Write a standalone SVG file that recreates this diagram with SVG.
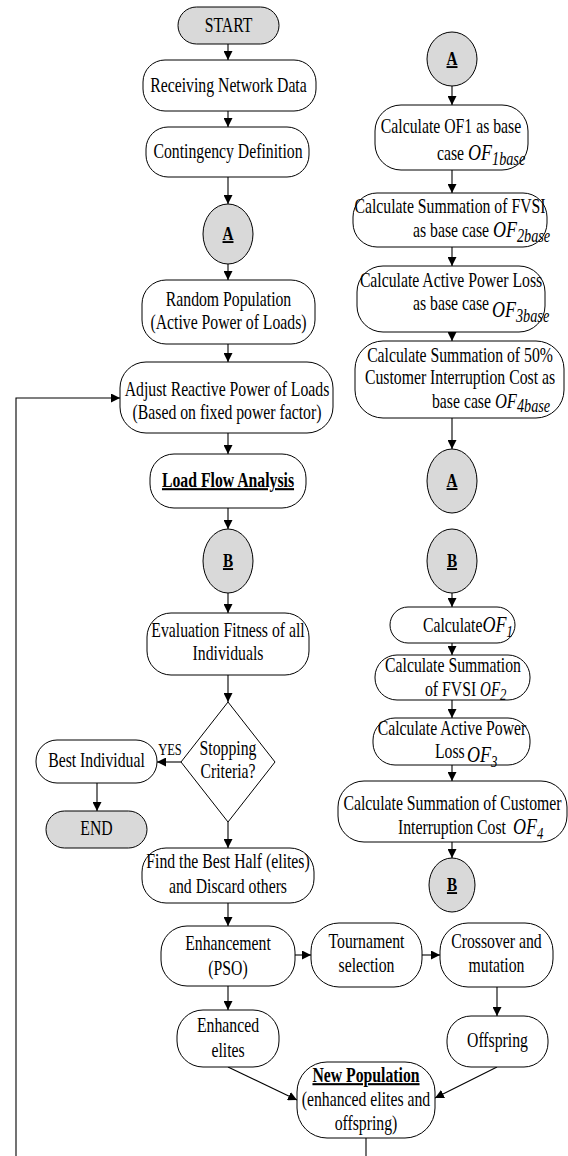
<svg xmlns="http://www.w3.org/2000/svg" width="568" height="1156" viewBox="0 0 568 1156">
<style>
  rect, ellipse, polygon { fill: #ffffff; stroke: #000000; stroke-width: 1; }
  .gray { fill: #d9d9d9; }
  text { font-family: "Liberation Serif", "Times New Roman", serif; font-size: 21px; fill: #000000; text-anchor: middle; }
  text.s { text-anchor: start; }
  .b { font-weight: bold; text-decoration: underline; }
  .lbl { font-size: 19px; }
  .of { font-style: italic; font-size: 24px; }
  .ofs { font-style: italic; font-size: 20px; }
  .sub { font-style: italic; font-size: 19px; }
  .sub1 { font-style: italic; font-size: 17px; }
  .yes { font-size: 16px; }
  #connectors path { fill: none; stroke: #000000; stroke-width: 1.1; }
</style>
<defs>
  <marker id="arr" markerUnits="userSpaceOnUse" markerWidth="9" markerHeight="9" refX="9" refY="4.5" orient="auto">
    <path d="M0,0 L9,4.5 L0,9 z" fill="#000000"/>
  </marker>
</defs>
<rect x="0" y="0" width="568" height="1156" style="fill:#ffffff;stroke:none"/>

<g id="connectors">
  <path d="M228,44 V60" marker-end="url(#arr)"/>
  <path d="M228,111 V127" marker-end="url(#arr)"/>
  <path d="M228,177 V204" marker-end="url(#arr)"/>
  <path d="M228,264 V280" marker-end="url(#arr)"/>
  <path d="M228,344 V362" marker-end="url(#arr)"/>
  <path d="M228,433 V454" marker-end="url(#arr)"/>
  <path d="M228,508 V529" marker-end="url(#arr)"/>
  <path d="M228,593 V613" marker-end="url(#arr)"/>
  <path d="M228,675 V702" marker-end="url(#arr)"/>
  <path d="M181,762 H157" marker-end="url(#arr)"/>
  <path d="M97,783 V811" marker-end="url(#arr)"/>
  <path d="M228,822 V848" marker-end="url(#arr)"/>
  <path d="M228,903 V926" marker-end="url(#arr)"/>
  <path d="M295,955 H311" marker-end="url(#arr)"/>
  <path d="M422,955 H440" marker-end="url(#arr)"/>
  <path d="M228,986 V1010" marker-end="url(#arr)"/>
  <path d="M497,987 V1016" marker-end="url(#arr)"/>
  <path d="M228,1067 L297,1100" marker-end="url(#arr)"/>
  <path d="M497,1067 L435,1098" marker-end="url(#arr)"/>
  <path d="M366,1138 V1156"/>
  <path d="M16,1156 V398 H120" marker-end="url(#arr)"/>
  <path d="M452,86 V105" marker-end="url(#arr)"/>
  <path d="M452,170 V193" marker-end="url(#arr)"/>
  <path d="M452,247 V266" marker-end="url(#arr)"/>
  <path d="M452,332 V341" marker-end="url(#arr)"/>
  <path d="M452,418 V449" marker-end="url(#arr)"/>
  <path d="M452,593 V607" marker-end="url(#arr)"/>
  <path d="M452,643 V655" marker-end="url(#arr)"/>
  <path d="M452,700 V718" marker-end="url(#arr)"/>
  <path d="M452,765 V781" marker-end="url(#arr)"/>
  <path d="M452,842 V858" marker-end="url(#arr)"/>
</g>

<g id="start">
  <rect class="gray" x="178" y="7" width="101" height="37" rx="18.5"/>
  <text transform="translate(228.5 32) scale(0.75 1)">START</text>
</g>
<g id="receiving">
  <rect x="143" y="60" width="173" height="51" rx="22"/>
  <text transform="translate(228.5 92) scale(0.75 1)">Receiving Network Data</text>
</g>
<g id="contingency">
  <rect x="146" y="127" width="163" height="50" rx="22"/>
  <text transform="translate(228 158) scale(0.75 1)">Contingency Definition</text>
</g>
<g id="connA1">
  <ellipse class="gray" cx="228" cy="234" rx="25" ry="30"/>
  <text class="b lbl" transform="translate(228 240) scale(0.8 1)">A</text>
</g>
<g id="random">
  <rect x="142" y="280" width="173" height="64" rx="24"/>
  <text transform="translate(228.5 306) scale(0.75 1)">Random Population</text>
  <text transform="translate(228.5 329) scale(0.75 1)">(Active Power of Loads)</text>
</g>
<g id="adjust">
  <rect x="120" y="362" width="213" height="71" rx="26"/>
  <text transform="translate(227 396) scale(0.75 1)">Adjust Reactive Power of Loads</text>
  <text transform="translate(227 419) scale(0.75 1)">(Based on fixed power factor)</text>
</g>
<g id="loadflow">
  <rect x="150" y="454" width="156" height="54" rx="24"/>
  <text class="b" transform="translate(228 487) scale(0.75 1)">Load Flow Analysis</text>
</g>
<g id="connB1">
  <ellipse class="gray" cx="228" cy="561" rx="25" ry="32"/>
  <text class="b lbl" transform="translate(228 567) scale(0.8 1)">B</text>
</g>
<g id="evaluation">
  <rect x="147" y="613" width="162" height="62" rx="24"/>
  <text transform="translate(228 637) scale(0.75 1)">Evaluation Fitness of all</text>
  <text transform="translate(228 660) scale(0.75 1)">Individuals</text>
</g>
<g id="stopping">
  <polygon points="228,702 275,762 228,822 181,762"/>
  <text transform="translate(228 755) scale(0.75 1)">Stopping</text>
  <text transform="translate(228 778) scale(0.75 1)">Criteria?</text>
  <text class="yes" transform="translate(170 755) scale(0.78 1)">YES</text>
</g>
<g id="best">
  <rect x="36" y="740" width="121" height="43" rx="21"/>
  <text transform="translate(96.5 767) scale(0.75 1)">Best Individual</text>
</g>
<g id="end">
  <rect class="gray" x="46" y="811" width="101" height="37" rx="18.5"/>
  <text transform="translate(96.5 835) scale(0.75 1)">END</text>
</g>
<g id="findbest">
  <rect x="142" y="848" width="172" height="55" rx="24"/>
  <text transform="translate(228 868) scale(0.75 1)">Find the Best Half (elites)</text>
  <text transform="translate(228 893) scale(0.75 1)">and Discard others</text>
</g>
<g id="enhancement">
  <rect x="161" y="926" width="134" height="60" rx="26"/>
  <text transform="translate(228 950) scale(0.75 1)">Enhancement</text>
  <text transform="translate(228 975) scale(0.75 1)">(PSO)</text>
</g>
<g id="tournament">
  <rect x="311" y="923" width="111" height="64" rx="28"/>
  <text transform="translate(366.5 948) scale(0.75 1)">Tournament</text>
  <text transform="translate(366.5 972) scale(0.75 1)">selection</text>
</g>
<g id="crossover">
  <rect x="440" y="923" width="113" height="64" rx="28"/>
  <text transform="translate(496.5 948) scale(0.75 1)">Crossover and</text>
  <text transform="translate(496.5 972) scale(0.75 1)">mutation</text>
</g>
<g id="enhancedelites">
  <rect x="177" y="1010" width="102" height="57" rx="26"/>
  <text transform="translate(228 1032) scale(0.75 1)">Enhanced</text>
  <text transform="translate(228 1057) scale(0.75 1)">elites</text>
</g>
<g id="offspring">
  <rect x="447" y="1016" width="101" height="51" rx="24"/>
  <text transform="translate(497.5 1047) scale(0.75 1)">Offspring</text>
</g>
<g id="newpop">
  <rect x="297" y="1062" width="138" height="76" rx="30"/>
  <text class="b" transform="translate(366 1082) scale(0.75 1)">New Population</text>
  <text transform="translate(366 1106) scale(0.75 1)">(enhanced elites and</text>
  <text transform="translate(366 1130) scale(0.75 1)">offspring)</text>
</g>

<g id="connA2">
  <ellipse class="gray" cx="452" cy="59" rx="25" ry="27"/>
  <text class="b lbl" transform="translate(452 65) scale(0.8 1)">A</text>
</g>
<g id="of1base">
  <rect x="375" y="105" width="153" height="65" rx="26"/>
  <text transform="translate(451 133) scale(0.75 1)">Calculate OF1 as base</text>
  <text class="s" transform="translate(437 160) scale(0.75 1)">case <tspan class="of">OF</tspan><tspan class="sub" dy="5">1base</tspan></text>
</g>
<g id="of2base">
  <rect x="353" y="193" width="194" height="54" rx="24"/>
  <text transform="translate(450 213) scale(0.75 1)">Calculate Summation of FVSI</text>
  <text class="s" transform="translate(413 237) scale(0.75 1)">as base case <tspan class="of">OF</tspan><tspan class="sub" dy="5">2base</tspan></text>
</g>
<g id="of3base">
  <rect x="357" y="266" width="188" height="66" rx="26"/>
  <text transform="translate(451 287) scale(0.75 1)">Calculate Active Power Loss</text>
  <text class="s" transform="translate(413 310) scale(0.75 1)">as base case<tspan class="of" dx="4" dy="7">OF</tspan><tspan class="sub" dy="5">3base</tspan></text>
</g>
<g id="of4base">
  <rect x="355" y="341" width="209" height="77" rx="28"/>
  <text transform="translate(460 362) scale(0.75 1)">Calculate Summation of 50%</text>
  <text transform="translate(460 384) scale(0.75 1)">Customer Interruption Cost as</text>
  <text class="s" transform="translate(432 408) scale(0.75 1)">base case <tspan class="ofs" style="font-size:22px">OF</tspan><tspan class="sub" dy="4">4base</tspan></text>
</g>
<g id="connA3">
  <ellipse class="gray" cx="452" cy="481" rx="25" ry="32"/>
  <text class="b lbl" transform="translate(452 487) scale(0.8 1)">A</text>
</g>
<g id="connB2">
  <ellipse class="gray" cx="452" cy="561" rx="25" ry="32"/>
  <text class="b lbl" transform="translate(452 567) scale(0.8 1)">B</text>
</g>
<g id="of1">
  <rect x="390" y="607" width="125" height="36" rx="18"/>
  <text class="s" transform="translate(423 632) scale(0.75 1)">Calculate<tspan class="of">OF</tspan><tspan class="sub1" dy="5">1</tspan></text>
</g>
<g id="of2">
  <rect x="375" y="655" width="155" height="45" rx="22"/>
  <text transform="translate(453 672) scale(0.75 1)">Calculate Summation</text>
  <text class="s" transform="translate(425 696) scale(0.75 1)">of FVSI <tspan class="ofs">OF</tspan><tspan class="sub1" dy="4">2</tspan></text>
</g>
<g id="of3">
  <rect x="373" y="718" width="157" height="47" rx="22"/>
  <text transform="translate(452 735) scale(0.75 1)">Calculate Active Power</text>
  <text class="s" transform="translate(435 758) scale(0.75 1)">Loss<tspan class="of" dx="3" dy="4">OF</tspan><tspan class="sub1" dy="5">3</tspan></text>
</g>
<g id="of4">
  <rect x="338" y="781" width="229" height="61" rx="26"/>
  <text transform="translate(452.5 810) scale(0.75 1)">Calculate Summation of Customer</text>
  <text class="s" transform="translate(398 834) scale(0.75 1)">Interruption Cost <tspan class="of" dx="4">OF</tspan><tspan class="sub1" dy="5">4</tspan></text>
</g>
<g id="connB3">
  <ellipse class="gray" cx="452" cy="885" rx="23" ry="27"/>
  <text class="b lbl" transform="translate(452 891) scale(0.8 1)">B</text>
</g>
</svg>
